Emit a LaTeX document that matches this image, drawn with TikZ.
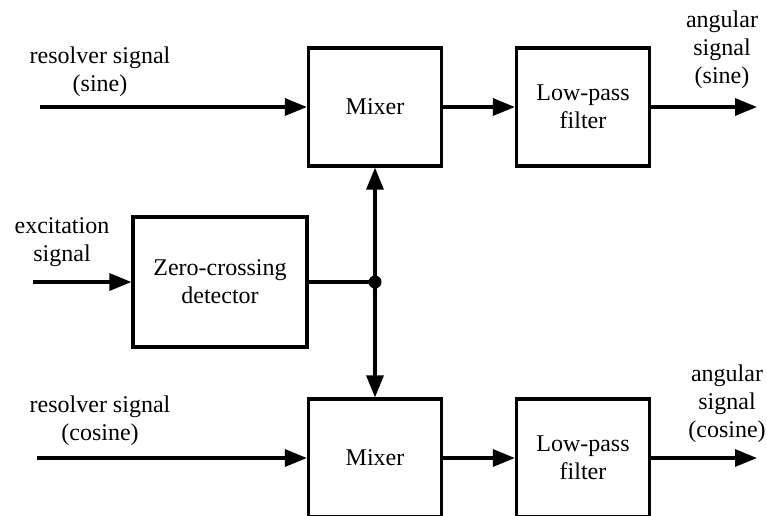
\documentclass[tikz,border=0pt]{standalone}
\usepackage{fontspec}
\setmainfont{Liberation Serif}
\usetikzlibrary{arrows.meta}

\begin{document}
\begin{tikzpicture}[x=1pt,y=-1pt,line width=3.2pt,
    font=\fontsize{24}{28}\selectfont]
    \clip (0,0) rectangle (767,515);

    \begin{scope}[every node/.style={rectangle,draw,align=center,inner sep=0pt,
        minimum width=133pt,minimum height=118pt}]
      \node (mix1) at (375,107) {Mixer};
      \node (lpf1) at (583,107) {Low-pass\\filter};
      \node (mix2) at (375,458) {Mixer};
      \node (lpf2) at (583,458) {Low-pass\\filter};
      \node[minimum width=174pt,minimum height=130pt] (zcd) at (220,282) {Zero-crossing\\detector};
    \end{scope}

    \begin{scope}[every node/.style={align=center,inner sep=0pt}]
      \node (sin) at (100,72) {resolver signal\\(sine)};
      \node (cos) at (100,421) {resolver signal\\(cosine)};
      \node (exc) at (62,242) {excitation\\signal};
      \node (osin) at (722,50) {angular\\signal\\(sine)};
      \node (ocos) at (727,404) {angular\\signal\\(cosine)};
    \end{scope}

    \coordinate (in1) at (40,107);
    \coordinate (in2) at (37,458);
    \coordinate (in3) at (33,282);
    \coordinate (out1) at (757,107);
    \coordinate (out2) at (757,458);
    \coordinate (jn) at (mix1.south |- zcd.east);

    \begin{scope}[>={Triangle[length=22pt,width=17pt]},
        every edge/.style={draw=black,line width=3.2pt}]
      \path [->] (in1) edge (mix1);
      \path [->] (mix1) edge (lpf1);
      \path [->] (lpf1) edge (out1);
      \path [->] (in2) edge (mix2);
      \path [->] (mix2) edge (lpf2);
      \path [->] (lpf2) edge (out2);
      \path [->] (in3) edge (zcd);
      \path (zcd) edge (jn);
      \path [->] (jn) edge (mix1);
      \path [->] (jn) edge (mix2);
    \end{scope}
    \fill (jn) circle (6.5);
  \end{tikzpicture}
\end{document}
